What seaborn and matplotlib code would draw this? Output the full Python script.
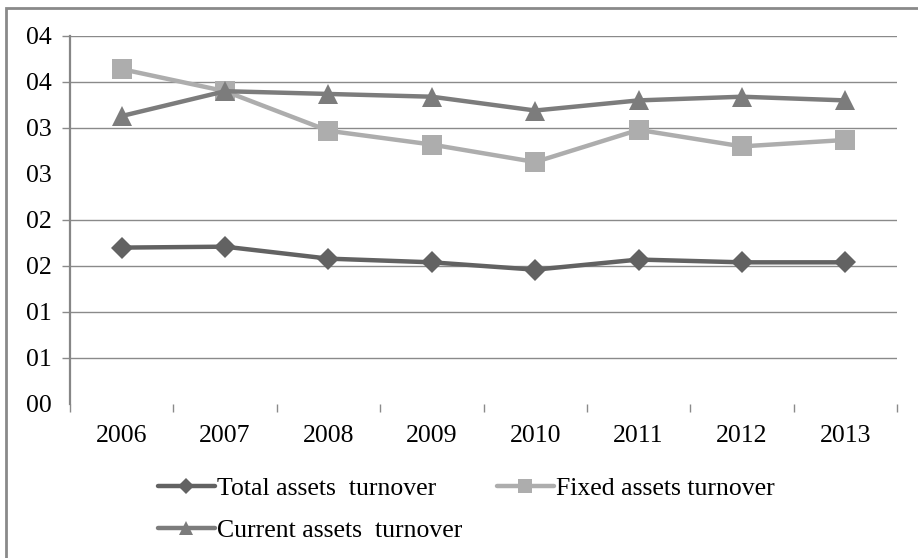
import matplotlib
matplotlib.use("Agg")
import matplotlib.pyplot as plt
from matplotlib.patches import Rectangle
import numpy as np
import pandas as pd
import seaborn as sns

years = ["2006", "2007", "2008", "2009", "2010", "2011", "2012", "2013"]
total_assets = [0.170, 0.171, 0.158, 0.154, 0.146, 0.157, 0.154, 0.154]
fixed_assets = [0.364, 0.340, 0.297, 0.282, 0.263, 0.298, 0.280, 0.287]
current_assets = [0.313, 0.340, 0.337, 0.334, 0.319, 0.330, 0.334, 0.330]
series_names = ["Total assets  turnover", "Fixed assets turnover", "Current assets  turnover"]
y_ticks = [0.0, 0.05, 0.10, 0.15, 0.20, 0.25, 0.30, 0.35, 0.40]
y_tick_labels = ["00", "01", "01", "02", "02", "03", "03", "04", "04"]
grid_values = [0.05, 0.10, 0.15, 0.20, 0.30, 0.35, 0.40]

df = pd.concat([
    pd.DataFrame({"year": years, "value": vals, "series": name})
    for name, vals in zip(series_names, [total_assets, fixed_assets, current_assets])
], ignore_index=True)

sns.set_theme(style="white")
plt.rcParams["font.family"] = ["Liberation Serif", "DejaVu Serif"]
plt.rcParams["text.color"] = "black"
plt.rcParams["xtick.color"] = "black"
plt.rcParams["ytick.color"] = "black"

fig = plt.figure(figsize=(9.18, 5.58), dpi=100)
ax = fig.add_axes([70 / 918, 1 - 404 / 558, 827 / 918, 368 / 558])

palette = {series_names[0]: "#626262", series_names[1]: "#adadad", series_names[2]: "#7c7c7c"}
markers = {series_names[0]: "D", series_names[1]: "s", series_names[2]: "^"}
sizes = {series_names[0]: 11, series_names[1]: 14, series_names[2]: 14}

# horizontal grid lines, drawn beneath the series
for v in grid_values:
    ax.axhline(v, color="#8a8a8a", linewidth=1, zorder=0.5)

for name in series_names:
    sub = df[df["series"] == name]
    sns.lineplot(data=sub, x="year", y="value", ax=ax, color=palette[name],
                 marker=markers[name], markersize=sizes[name], markeredgewidth=0,
                 linewidth=3.2, label=name, sort=False)

ax.set_xlim(-0.5, len(years) - 0.5)
ax.set_ylim(0, 0.40)
ax.set_xlabel("")
ax.set_ylabel("")
ax.grid(False)

FS = 18.5
ax.set_yticks(y_ticks)
ax.set_yticklabels(y_tick_labels, fontsize=FS)
ax.tick_params(axis="y", which="major", direction="out", length=6, width=1,
               color="#8a8a8a", labelcolor="black", pad=7, left=True)
ticklines = ax.yaxis.get_ticklines()
for i in (0, 5):
    ticklines[2 * i].set_visible(False)

ax.set_xticks(range(len(years)))
ax.set_xticklabels(years, fontsize=FS)
ax.set_xticks(np.arange(-0.5, len(years), 1.0), minor=True)
ax.tick_params(axis="x", which="major", length=0, pad=15, labelcolor="black")
ax.tick_params(axis="x", which="minor", direction="out", length=6, width=1,
               color="#8a8a8a", bottom=True)

for side in ("top", "right", "bottom"):
    ax.spines[side].set_visible(False)
ax.spines["left"].set_color("#868686")
ax.spines["left"].set_linewidth(1.6)

# two-column legend filled column-wise: Total / Current in the first, Fixed in the second
handles, labels = ax.get_legend_handles_labels()
order = [0, 2, 1]
ax.legend([handles[i] for i in order], [labels[i] for i in order], ncol=2,
          frameon=False, fontsize=FS, loc="upper left",
          bbox_to_anchor=(158 / 918, 1 - 477 / 558), bbox_transform=fig.transFigure,
          handlelength=2.2, handletextpad=0.1, columnspacing=1.35,
          labelspacing=0.75, borderaxespad=0, borderpad=0, markerscale=0.7)

# outer chart border, running past the right and bottom edges
fig.add_artist(Rectangle((6 / 918, -0.05), 1.1, 1 - 8 / 558 + 0.05,
                         transform=fig.transFigure, fill=False,
                         edgecolor="#8a8a8a", linewidth=2))

fig.savefig("out.png", dpi=100)
